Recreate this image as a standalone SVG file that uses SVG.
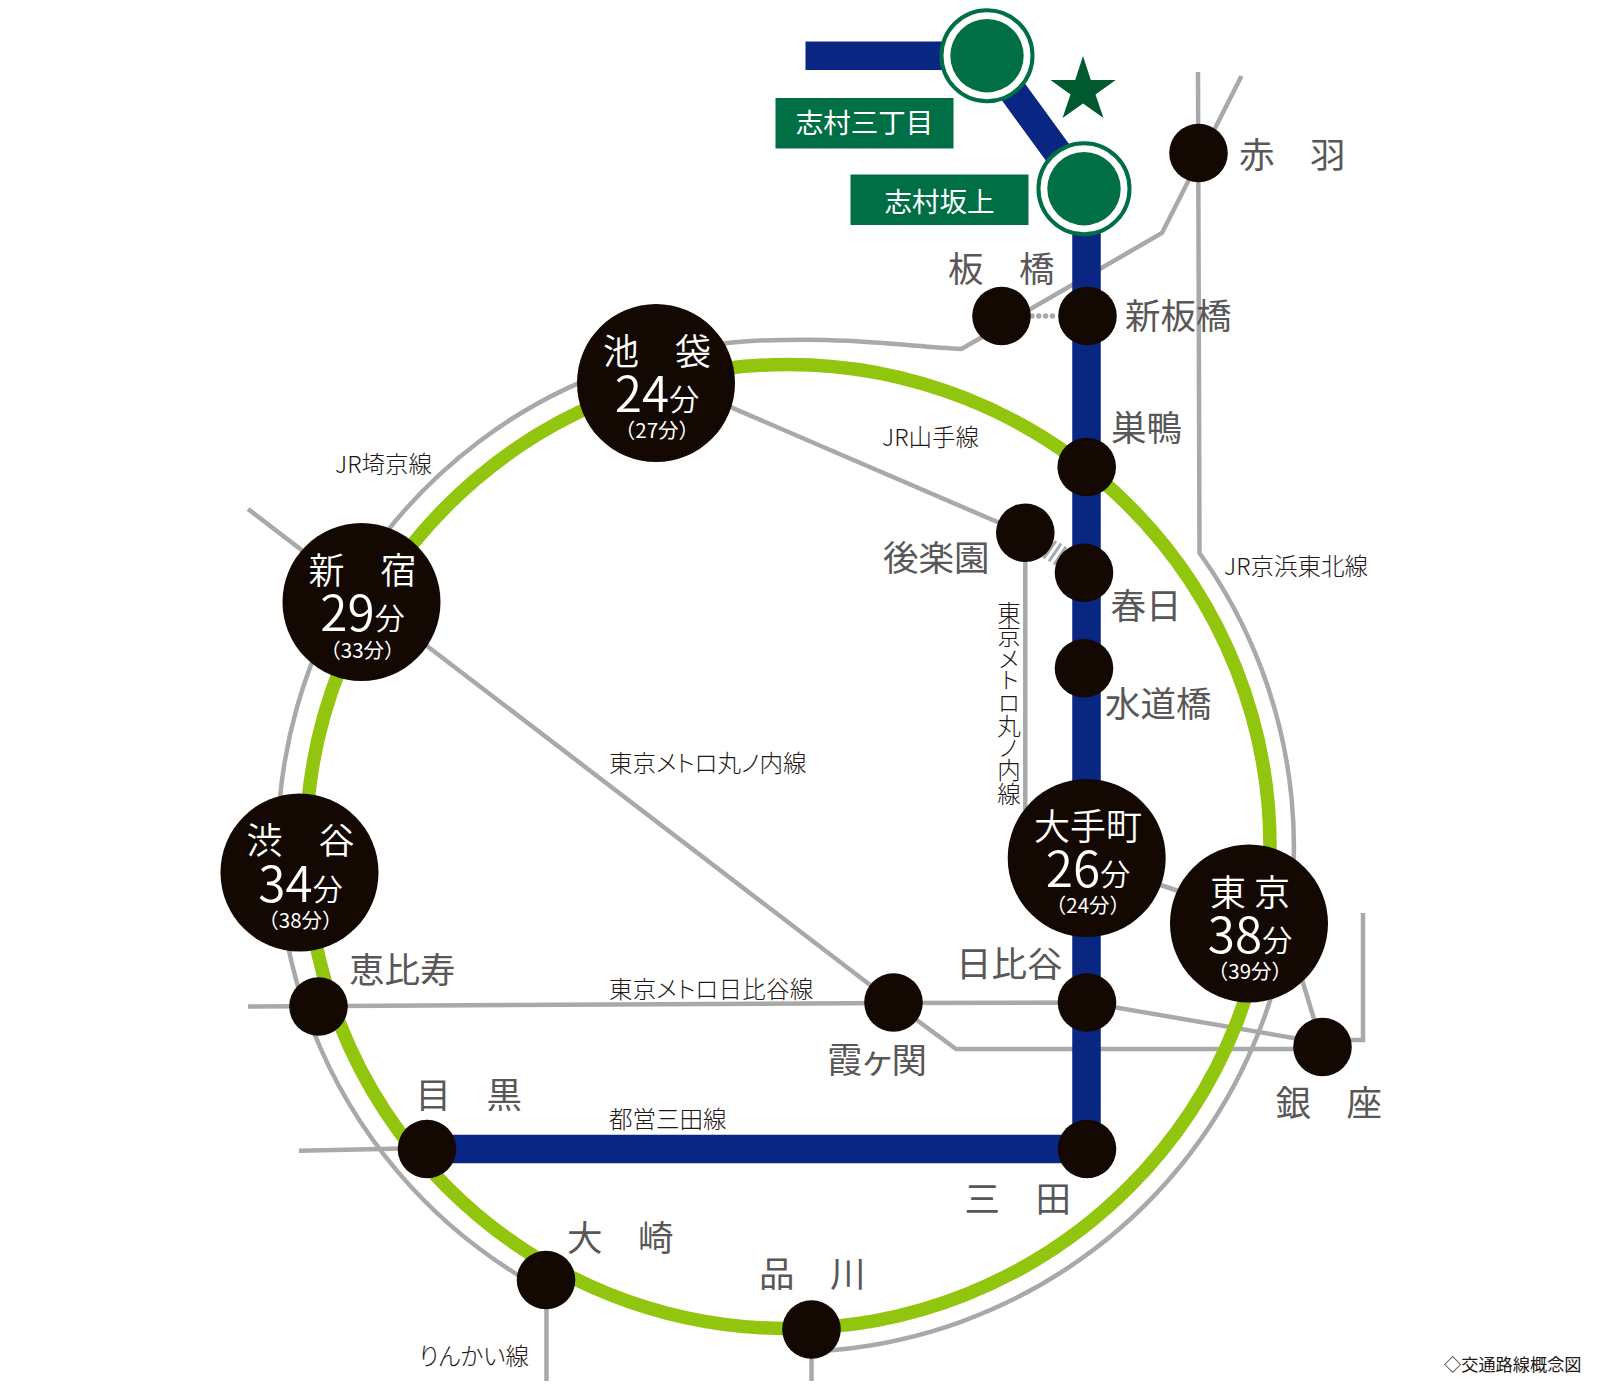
<svg xmlns="http://www.w3.org/2000/svg" width="1600" height="1388" viewBox="0 0 1600 1388">
<style>
text{font-family:"Noto Sans CJK JP","Noto Sans",sans-serif}
.g{fill:none;stroke:#a9a9a9;stroke-width:4.5}
.b{fill:none;stroke:#0a2683;stroke-width:28.5}
.n{fill:#130802}
.st{font-size:35.5px;fill:#595757}
.ln{font-size:23.5px;fill:#231815;font-weight:300;font-feature-settings:"palt"}
.w{fill:#fff;text-anchor:middle;font-weight:350}
.nm{font-size:36px}
.t{font-size:49.5px}
.u{font-size:30px}
.s{font-size:20.5px;font-weight:400}
.k{font-size:27.5px;fill:#fff;text-anchor:middle}
.h{fill:#fff;stroke:#006f46;stroke-width:4}
.c{fill:#006f46}
</style>
<rect width="1600" height="1388" fill="#fff"/>
<g id="connectors">
<path class="g" d="M1198,72L1199.5,553A505,505 0 0 1 834,1350L811,1352"/>
<path class="g" d="M1241.5,76L1162,233L961.5,349C900,345 840,338 785,340A505,505 0 0 0 518,1275"/>
<path class="g" d="M248,509L893,1002.5L956,1049H1322.5M1330,1040H1363V913"/>
<path class="g" d="M248,1006.5L893,1003L1087,1002.5L1322.5,1043"/>
<path class="g" d="M656,375L1025.3,534V860"/>
<path class="g" d="M1087,860L1249,915"/>
<path class="g" d="M1290,940L1322.5,1047"/>
<path class="g" d="M299,1150.7L427,1148"/>
<path class="g" d="M546.500,1280V1381M811.500,1330V1381"/>
<path fill="none" stroke="#a9a9a9" stroke-width="5.500" stroke-linecap="round" stroke-dasharray="0 6.800" d="M1032,316H1058"/>
<path class="g" style="stroke-width:3" d="M1056,540.900L1043.600,558.300M1061,543.600L1049,561.400M1066,546.900L1054,564.700"/>
<circle cx="788" cy="846.500" r="482" fill="none" stroke="#92c50e" stroke-width="13.500"/>
<path class="b" d="M805.500,55.700H987L1084,188.700L1086.500,200V1149H427"/>
</g>
<g id="shimura-sanchome"><circle class="h" cx="987" cy="55.700" r="45.500"/><circle class="c" cx="987" cy="55.700" r="36.700"/><rect class="c" x="775.500" y="98" width="178" height="50.500"/><text class="k" x="864.500" y="132.500">志村三丁目</text></g>
<g id="shimura-sakaue"><circle class="h" cx="1084" cy="188.700" r="45.500"/><circle class="c" cx="1084" cy="188.700" r="36.700"/><rect class="c" x="850.500" y="174.500" width="178" height="50.500"/><text class="k" x="939.500" y="211.500">志村坂上</text></g>
<polygon id="star" fill="#00592f" points="1083,56 1090.800,80 1115.700,80 1095.500,94.500 1103.500,118 1083,103.500 1062.500,118 1070.500,94.500 1050.500,80 1075.200,80"/>
<g id="akabane"><circle class="n" cx="1198.500" cy="153" r="29.300"/><text class="st" x="1239" y="168">赤　羽</text></g>
<g id="itabashi"><circle class="n" cx="1001.500" cy="316" r="29.300"/><text class="st" x="948" y="282">板　橋</text></g>
<g id="shin-itabashi"><circle class="n" cx="1087.500" cy="316" r="29.300"/><text class="st" x="1125" y="328.500">新板橋</text></g>
<g id="sugamo"><circle class="n" cx="1086.700" cy="467" r="29.300"/><text class="st" x="1111" y="441">巣鴨</text></g>
<g id="korakuen"><circle class="n" cx="1025.300" cy="532.700" r="29.300"/><text class="st" x="883" y="570.500">後楽園</text></g>
<g id="kasuga"><circle class="n" cx="1084" cy="572.700" r="29.300"/><text class="st" x="1110.500" y="619">春日</text></g>
<g id="suidobashi"><circle class="n" cx="1084" cy="668.300" r="29.300"/><text class="st" x="1105" y="717">水道橋</text></g>
<g id="hibiya"><circle class="n" cx="1087" cy="1002.500" r="29.300"/><text class="st" x="956" y="977">日比谷</text></g>
<g id="kasumigaseki"><circle class="n" cx="893.500" cy="1002.500" r="29.300"/><text class="st" x="827" y="1073" style="font-feature-settings:'palt'">霞ヶ関</text></g>
<g id="ginza"><circle class="n" cx="1322.500" cy="1047" r="29.300"/><text class="st" x="1275.500" y="1116">銀　座</text></g>
<g id="mita"><circle class="n" cx="1087" cy="1149" r="29.300"/><text class="st" x="964.500" y="1211.500">三　田</text></g>
<g id="meguro"><circle class="n" cx="427" cy="1149" r="29.300"/><text class="st" x="415.500" y="1108">目　黒</text></g>
<g id="ebisu"><circle class="n" cx="318.500" cy="1006.500" r="29.300"/><text class="st" x="349" y="983">恵比寿</text></g>
<g id="osaki"><circle class="n" cx="546" cy="1280" r="29.300"/><text class="st" x="567" y="1251">大　崎</text></g>
<g id="shinagawa"><circle class="n" cx="811.500" cy="1329.500" r="29.300"/><text class="st" x="759" y="1287">品　川</text></g>
<g id="ikebukuro"><circle class="n" cx="656" cy="383" r="79"/><text class="w nm" x="657" y="365">池　袋</text><text class="w" x="657" y="412"><tspan class="t">24</tspan><tspan class="u" dy="-2.500">分</tspan></text><text class="w s" x="657" y="438">（27分）</text></g>
<g id="shinjuku"><circle class="n" cx="361.500" cy="602" r="79"/><text class="w nm" x="362.500" y="584">新　宿</text><text class="w" x="362.500" y="631"><tspan class="t">29</tspan><tspan class="u" dy="-2.500">分</tspan></text><text class="w s" x="362.500" y="658">（33分）</text></g>
<g id="shibuya"><circle class="n" cx="299.500" cy="872.500" r="79"/><text class="w nm" x="300.500" y="854">渋　谷</text><text class="w" x="300.500" y="902"><tspan class="t">34</tspan><tspan class="u" dy="-2.500">分</tspan></text><text class="w s" x="300.500" y="928">（38分）</text></g>
<g id="otemachi"><circle class="n" cx="1086.700" cy="858" r="79"/><text class="w nm" x="1088" y="840">大手町</text><text class="w" x="1088" y="887"><tspan class="t">26</tspan><tspan class="u" dy="-2.500">分</tspan></text><text class="w s" x="1088" y="913">（24分）</text></g>
<g id="tokyo"><circle class="n" cx="1249" cy="923.500" r="79"/><text class="w nm" x="1250" y="906">東 京</text><text class="w" x="1250" y="953"><tspan class="t">38</tspan><tspan class="u" dy="-2.500">分</tspan></text><text class="w s" x="1250" y="979">（39分）</text></g>
<g id="line-labels">
<text class="ln" x="882" y="446">JR山手線</text>
<text class="ln" x="335" y="472.500">JR埼京線</text>
<text class="ln" x="1224" y="575">JR京浜東北線</text>
<text class="ln" x="609" y="772">東京メトロ丸ノ内線</text>
<text class="ln" x="609" y="997.500" style="letter-spacing:.2px">東京メトロ日比谷線</text>
<text class="ln" x="609" y="1127.500">都営三田線</text>
<text class="ln" x="419" y="1364.500">りんかい線</text>
<text class="ln" style="writing-mode:vertical-rl;font-feature-settings:'vpal'" x="1009" y="601">東京メトロ丸ノ内線</text>
<text x="1444" y="1371" style="font-size:17.200px;fill:#231815">◇交通路線概念図</text>
</g>
</svg>
